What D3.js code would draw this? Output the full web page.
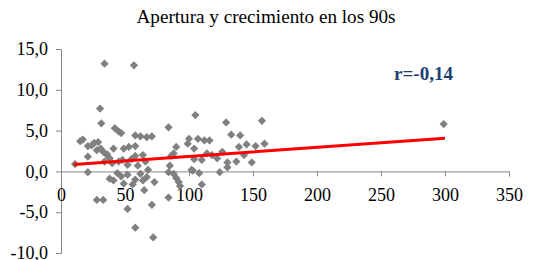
<!DOCTYPE html>
<html>
<head>
<meta charset="utf-8">
<script src="https://cdn.jsdelivr.net/npm/d3@7"></script>
<style>
  body { margin: 0; background: #fff; }
  text { font-family: "Liberation Serif", "Times New Roman", serif; }
</style>
</head>
<body>
<div id="chart"></div>
<script>
let width = 542, height = 260;

const title = "Apertura y crecimiento en los 90s";
const rLabel = "r=-0,14";

// apertura (x) and crecimiento (y)
const apertura = [34, 57, 30.5, 31.5, 42, 45, 47, 84, 105, 129, 157, 299,
  15, 17, 21, 26, 29, 24, 28, 31, 33, 36, 41, 49, 53, 58, 58, 62, 67, 71,
  90, 88, 100, 104, 99, 107, 112, 116, 133, 140, 139, 145, 152, 159,
  11, 21, 34, 38, 36, 40, 45, 48, 52, 55, 58, 60, 64, 66, 68, 85, 86, 102, 104,
  110, 114, 118, 122, 126, 130, 130, 137, 143, 149, 124,
  21, 38, 41, 44, 47, 49, 52, 56, 58, 62, 64, 65, 67, 73, 84, 88, 90, 92, 93,
  103, 108, 110, 28, 33, 52, 58, 71, 72, 84];
const crecimiento = [13.2, 13.0, 7.7, 5.9, 5.3, 4.9, 4.7, 5.4, 6.9, 6.0, 6.2, 5.8,
  3.7, 3.9, 3.1, 3.5, 3.6, 3.2, 2.6, 2.8, 2.4, 2.1, 2.8, 2.8, 3.0, 3.1, 4.4, 4.3, 4.2, 4.3,
  3.0, 2.2, 4.0, 2.8, 3.4, 4.0, 3.8, 3.8, 4.5, 4.4, 3.0, 3.3, 3.1, 3.4,
  0.9, 1.8, 1.2, 1.6, 2.0, 1.0, 1.2, 1.4, 0.8, 1.5, 1.9, 0.7, 2.0, 1.2, 0.2, 0.7, 1.9, 0.2, 1.5,
  1.4, 2.2, 2.0, 1.6, 2.4, 1.1, 0.5, 1.2, 2.0, 1.1, -0.1,
  -0.1, -0.9, -1.1, -0.2, -0.6, -1.5, -0.4, -1.6, -1.0, -0.3, -1.1, -2.3, -0.7, -1.3, -0.1, -0.3, -0.8, -1.3, -1.8,
  0.1, -0.2, -1.6, -3.5, -3.5, -4.6, -6.9, -4.1, -8.1, -3.2];

// trend line ends
const trendX = [10, 300];
const trendY = [0.85, 4.05];

const xTicks = [0, 50, 100, 150, 200, 250, 300, 350];
const yTicks = [-10, -5, 0, 5, 10, 15];

let data = apertura.map(function(d, i){ return {x: d, y: crecimiento[i]}; });

let svg = d3.select('#chart')
  .append('svg')
  .attr('width', width)
  .attr('height', height);

let x = d3.scaleLinear().domain([0, 350]).range([61, 509]);
let y = d3.scaleLinear().domain([-10, 15]).range([253, 49]);

svg.append('text')
  .attr('x', 266)
  .attr('y', 23)
  .attr('text-anchor', 'middle')
  .attr('textLength', 259)
  .attr('lengthAdjust', 'spacingAndGlyphs')
  .style('font-size', '18px')
  .text(title);

// y axis
let yAxis = svg.append('g')
  .attr('transform', 'translate(' + x(0) + ',0)')
  .call(d3.axisLeft(y).tickValues(yTicks).tickSize(5).tickPadding(8)
    .tickFormat(function(d){ return d3.format('.1f')(d).replace('.', ',').replace('−', '-'); }));

// x axis on the zero line
let xAxis = svg.append('g')
  .attr('transform', 'translate(0,' + y(0) + ')')
  .call(d3.axisBottom(x).tickValues(xTicks).tickSize(5).tickPadding(12));

[yAxis, xAxis].forEach(function(g){
  g.attr('font-family', '"Liberation Serif", serif').attr('font-size', 18);
  g.select('.domain').attr('stroke', '#888');
  g.selectAll('.tick line').attr('stroke', '#888');
  g.selectAll('.tick text').attr('fill', '#000');
});

// points
svg.selectAll('.pt')
  .data(data)
  .enter()
  .append('path')
  .attr('class', 'pt')
  .attr('d', d3.symbol().type(d3.symbolSquare).size(34))
  .attr('transform', function(d){
    return 'translate(' + x(d.x) + ',' + y(d.y) + ') rotate(45)';
  })
  .attr('fill', '#808080');

// trend
svg.append('line')
  .attr('x1', x(trendX[0])).attr('y1', y(trendY[0]))
  .attr('x2', x(trendX[1])).attr('y2', y(trendY[1]))
  .attr('stroke', '#ff0000')
  .attr('stroke-width', 3);

svg.append('text')
  .attr('x', 423.5)
  .attr('y', 80)
  .attr('text-anchor', 'middle')
  .attr('fill', '#1b3f73')
  .attr('textLength', 59)
  .attr('lengthAdjust', 'spacingAndGlyphs')
  .style('font-size', '18px')
  .style('font-weight', 'bold')
  .text(rLabel);
</script>
</body>
</html>
